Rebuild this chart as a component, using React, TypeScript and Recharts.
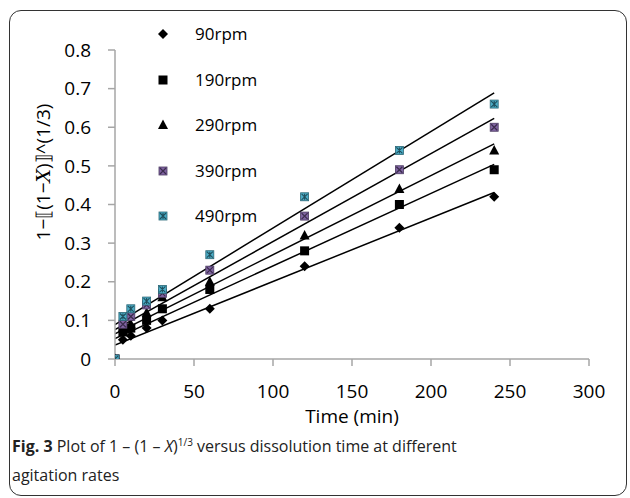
import {ComposedChart, Line, Scatter, XAxis, YAxis} from "recharts";

const times = [0, 5, 10, 20, 30, 60, 120, 180, 240];
const rpm90 = [0, 0.05, 0.06, 0.08, 0.1, 0.13, 0.24, 0.34, 0.42];
const rpm190 = [0, 0.07, 0.08, 0.1, 0.13, 0.18, 0.28, 0.4, 0.49];
const rpm290 = [0, 0.08, 0.09, 0.12, 0.16, 0.2, 0.32, 0.44, 0.54];
const rpm390 = [0, 0.09, 0.11, 0.14, 0.17, 0.23, 0.37, 0.49, 0.6];
const rpm490 = [0, 0.11, 0.13, 0.15, 0.18, 0.27, 0.42, 0.54, 0.66];

// trendline ends (at t = 0 and t = 240)
const fitTimes = [0, 240];
const fit90 = [0.036, 0.431];
const fit190 = [0.053, 0.504];
const fit290 = [0.065, 0.557];
const fit390 = [0.076, 0.623];
const fit490 = [0.089, 0.689];

const xTicks = [0, 50, 100, 150, 200, 250, 300];
const yTicks = [0, 0.1, 0.2, 0.3, 0.4, 0.5, 0.6, 0.7, 0.8];
const seriesNames = ["90rpm", "190rpm", "290rpm", "390rpm", "490rpm"];

const toPoints = (xs: number[], ys: number[]) => xs.map((x, i) => ({x, y: ys[i]}));

const FONT = "'Open Sans', sans-serif";
const AXIS = "#a6a6a6";

function Marker({kind, cx, cy}: {kind: number; cx: number; cy: number}) {
  if (kind === 0) {
    return <polygon points={`${cx},${cy - 5} ${cx + 5},${cy} ${cx},${cy + 5} ${cx - 5},${cy}`} fill="#000"/>;
  }
  if (kind === 1) {
    return <rect x={cx - 4.5} y={cy - 4.5} width={9} height={9} fill="#000"/>;
  }
  if (kind === 2) {
    return <polygon points={`${cx},${cy - 5.5} ${cx + 5},${cy + 4} ${cx - 5},${cy + 4}`} fill="#000"/>;
  }
  if (kind === 3) {
    return (
      <g>
        <rect x={cx - 4} y={cy - 4} width={8} height={8} fill="#8064a2" stroke="#4a3a60" strokeWidth={0.8}/>
        <path d={`M${cx - 3},${cy - 3}L${cx + 3},${cy + 3}M${cx + 3},${cy - 3}L${cx - 3},${cy + 3}`} stroke="#3a2c4c" strokeWidth={1.2}/>
      </g>
    );
  }
  return (
    <g>
      <rect x={cx - 4} y={cy - 4} width={8} height={8} fill="#4bacc6" stroke="#2a6675" strokeWidth={0.8}/>
      <path d={`M${cx - 3},${cy - 3}L${cx + 3},${cy + 3}M${cx + 3},${cy - 3}L${cx - 3},${cy + 3}M${cx},${cy - 3}L${cx},${cy + 3}`} stroke="#1f4f5c" strokeWidth={1.1}/>
    </g>
  );
}

function LegendBox() {
  return (
    <div style={{position: "absolute", left: 153, top: 22, fontFamily: FONT, fontSize: 17, color: "#000"}}>
      {seriesNames.map((name, i) => (
        <div key={name} style={{position: "absolute", left: 0, top: i * 45.6, height: 24, display: "flex", alignItems: "center", whiteSpace: "nowrap"}}>
          <svg width={20} height={24} style={{marginRight: 22, display: "block"}}>
            <Marker kind={i} cx={10} cy={12}/>
          </svg>
          <span style={{lineHeight: "24px"}}>{name}</span>
        </div>
      ))}
    </div>
  );
}

function YTitle() {
  return (
    <text transform="translate(43,172) rotate(-90)" textAnchor="middle" dominantBaseline="central"
          fontFamily={FONT} fontSize={19} fill="#000">
      1−⟦(1−<tspan fontStyle="italic" fontFamily="'DejaVu Serif', serif">X</tspan>)⟧^(1/3)
    </text>
  );
}

const seriesData = [rpm90, rpm190, rpm290, rpm390, rpm490];
const fitData = [fit90, fit190, fit290, fit390, fit490];

export default function App() {
  return (
    <div style={{position: "absolute", left: 0, top: 0, width: 630, height: 498, background: "#fff"}}>
      <div style={{
        position: "absolute", left: 9, top: 10, width: 616, height: 484,
        border: "1.5px solid #333", borderRadius: 12
      }}/>
      <ComposedChart width={630} height={498} margin={{top: 50, right: 41, bottom: 109, left: 55}}>
        <XAxis type="number" dataKey="x" domain={[0, 300]} ticks={xTicks} allowDataOverflow height={30}
               axisLine={{stroke: AXIS, strokeWidth: 1.5}} tickLine={{stroke: AXIS, strokeWidth: 1.5}} tickSize={7}
               tickMargin={19} tick={{fontFamily: FONT, fontSize: 19, fill: "#000"}}
               label={{value: "Time (min)", position: "insideBottom", offset: -34, fontFamily: FONT, fontSize: 19, fill: "#000"}}/>
        <YAxis type="number" dataKey="y" domain={[0, 0.8]} ticks={yTicks} allowDataOverflow width={60}
               axisLine={{stroke: AXIS, strokeWidth: 1.5}} tickLine={{stroke: AXIS, strokeWidth: 1.5}} tickSize={7}
               tickMargin={17} tick={{fontFamily: FONT, fontSize: 19, fill: "#000"}}
               tickFormatter={(v: number) => (v === 0 ? "0" : v.toFixed(1))}
               label={<YTitle/>}/>
        {seriesData.map((vals, i) => (
          <Scatter key={seriesNames[i]} name={seriesNames[i]} data={toPoints(times, vals)} isAnimationActive={false}
                   shape={(p: any) => <Marker kind={i} cx={p.cx} cy={p.cy}/>}/>
        ))}
        {fitData.map((vals, i) => (
          <Line key={"fit" + i} data={toPoints(fitTimes, vals)} dataKey="y" type="linear" stroke="#000"
                strokeWidth={1.5} dot={false} activeDot={false} isAnimationActive={false} legendType="none"/>
        ))}
      </ComposedChart>
      <LegendBox/>
      <div style={{position: "absolute", left: 12, top: 432, fontFamily: FONT, fontSize: 16, lineHeight: "29px", color: "#222", whiteSpace: "nowrap"}}>
        <b>Fig. 3</b> Plot of 1 – (1 – <i>X</i>)<sup style={{fontSize: 10, verticalAlign: "top", lineHeight: "20px"}}>1/3</sup> versus dissolution time at different<br/>
        agitation rates
      </div>
    </div>
  );
}
